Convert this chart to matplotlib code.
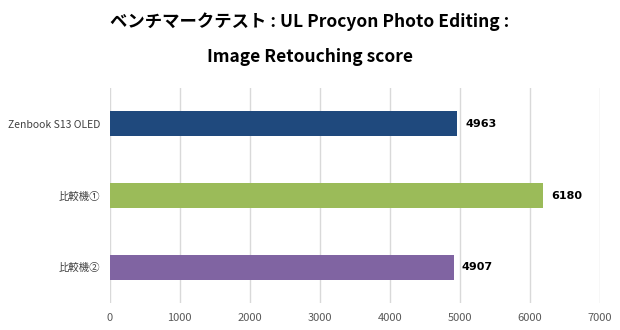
import matplotlib.pyplot as plt
import numpy as np

plt.rcParams['font.family'] = ['Noto Sans CJK JP', 'DejaVu Sans']

categories = ['Zenbook S13 OLED', '比較機①', '比較機②']
scores = [4963, 6180, 4907]
colors = ['#1f497d', '#9bbb59', '#8064a2']
xticks = [0, 1000, 2000, 3000, 4000, 5000, 6000, 7000]

fig = plt.figure(figsize=(6.2, 3.3), dpi=100)
ax = fig.add_axes([0.177, 0.082, 0.791, 0.651])

y = np.arange(len(categories))
ax.barh(y, scores, height=0.35, color=colors, zorder=3)
ax.set_ylim(len(categories) - 0.5, -0.5)
ax.set_xlim(0, 7000)
ax.set_xticks(xticks)
ax.set_xticklabels([str(t) for t in xticks], color='#595959', fontsize=8)
ax.set_yticks(y)
ax.set_yticklabels(categories, color='#404040', fontsize=7.5)
ax.tick_params(length=0, pad=7)
ax.xaxis.grid(True, color='#d9d9d9', linewidth=1, zorder=0)
for s in ax.spines.values():
    s.set_visible(False)

for yi, v in zip(y, scores):
    ax.text(v + 120, yi, str(v), va='center', ha='left', fontsize=8,
            fontweight='bold', color='black', family='DejaVu Sans')

fig.text(0.5, 0.933, 'ベンチマークテスト : UL Procyon Photo Editing :',
         ha='center', va='center', fontsize=12.5, fontweight='bold')
fig.text(0.5, 0.828, 'Image Retouching score',
         ha='center', va='center', fontsize=12.5, fontweight='bold')

fig.savefig('out.png', dpi=100)
